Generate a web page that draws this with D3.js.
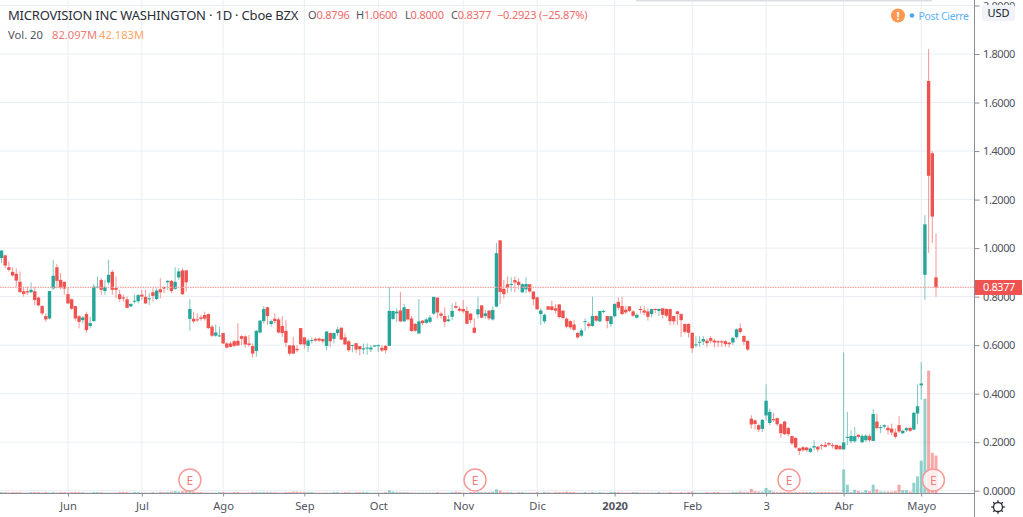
<!DOCTYPE html>
<html>
<head>
<meta charset="utf-8">
<script src="https://cdn.jsdelivr.net/npm/d3@7"></script>
<style>
    html, body { margin: 0; padding: 0; background: #fff; overflow: hidden; }
    text { font-family: "Noto Sans", sans-serif; }
</style>
</head>
<body>
<div id="chart"></div>
<script>
// one value per daily bar
const opens = [
    .959,.970,.921,.902,.894,.861,.822,.822,.818,.822,.796,.761,.720,.710,.834,.921,.869,.861,.810,.789,
    .761,.719,.703,.728,.679,.699,.839,.869,.823,.858,.902,.836,.810,.797,.789,.760,.779,.781,.808,.799,
    .789,.818,.790,.830,.840,.859,.865,.832,.879,.908,.908,.708,.709,.706,.714,.724,.728,.676,.639,.637,
    .650,.607,.607,.616,.618,.637,.636,.607,.596,.576,.652,.699,.756,.687,.709,.706,.679,.659,.599,.599,
    .585,.670,.632,.597,.618,.626,.627,.625,.597,.650,.626,.650,.672,.632,.616,.599,.608,.596,.582,.587,
    .582,.594,.599,.589,.597,.597,.708,.731,.743,.698,.749,.710,.688,.648,.701,.692,.696,.730,.796,.730,
    .720,.699,.717,.761,.750,.749,.741,.730,.672,.727,.764,.720,.742,.706,.759,1.032,.832,.851,.851,.868,
    .861,.818,.830,.851,.821,.797,.728,.698,.760,.760,.752,.768,.742,.709,.699,.685,.650,.639,.697,.688,
    .679,.720,.698,.739,.720,.687,.719,.778,.761,.746,.760,.739,.713,.749,.743,.739,.728,.749,.741,.752,
    .749,.749,.720,.739,.728,.687,.687,.651,.600,.611,.615,.618,.629,.619,.616,.616,.616,.610,.611,.633,
    .670,.638,.618,.297,.290,.270,.255,.310,.279,.295,.299,.274,.285,.258,.225,.218,.175,.179,.178,.160,
    .178,.181,.189,.189,.196,.188,.188,.185,.170,.219,.204,.204,.230,.200,.208,.225,.205,.285,.258,.264,
    .259,.256,.240,.270,.237,.249,.259,.252,.318,.434,.890,1.689,1.391,.8796
]
const highs = [
    .990,.973,.945,.921,.917,.904,.841,.841,.859,.841,.800,.765,.731,.823,.952,.935,.897,.862,.839,.793,
    .761,.724,.720,.738,.717,.852,.883,.876,.869,.952,.910,.883,.828,.807,.800,.772,.807,.811,.828,.828,
    .814,.834,.834,.876,.841,.869,.869,.921,.917,.917,.910,.789,.738,.731,.724,.738,.731,.683,.685,.676,
    .651,.614,.614,.621,.690,.641,.640,.641,.607,.662,.703,.761,.759,.706,.731,.714,.720,.703,.600,.634,
    .600,.670,.632,.627,.632,.632,.632,.627,.658,.651,.651,.676,.672,.648,.621,.601,.610,.596,.607,.607,
    .600,.600,.603,.600,.600,.839,.741,.752,.819,.770,.749,.720,.690,.790,.703,.714,.724,.799,.796,.738,
    .756,.724,.772,.779,.759,.786,.759,.731,.710,.800,.764,.745,.745,.759,1.021,1.032,.869,.883,.880,.883,
    .876,.855,.880,.851,.821,.800,.752,.731,.760,.783,.770,.770,.745,.714,.703,.703,.655,.669,.710,.696,
    .800,.724,.741,.745,.720,.720,.772,.797,.800,.761,.761,.745,.731,.761,.761,.752,.750,.752,.752,.752,
    .752,.749,.721,.741,.731,.690,.690,.651,.637,.637,.637,.627,.637,.627,.621,.621,.621,.614,.634,.669,
    .690,.641,.618,.311,.293,.277,.295,.438,.338,.320,.301,.277,.288,.263,.227,.219,.178,.184,.181,.178,
    .208,.184,.192,.201,.201,.197,.190,.188,.570,.325,.249,.263,.233,.233,.233,.233,.336,.318,.270,.274,
    .270,.277,.256,.307,.252,.263,.263,.325,.438,.530,1.136,1.820,1.400,1.060
]
const lows = [
    .938,.917,.903,.883,.841,.814,.800,.807,.814,.765,.759,.724,.696,.706,.828,.834,.830,.807,.770,.745,
    .701,.669,.690,.651,.669,.696,.835,.807,.807,.848,.807,.793,.779,.779,.752,.756,.772,.772,.786,.770,
    .765,.779,.786,.793,.814,.828,.814,.828,.869,.807,.821,.659,.692,.696,.701,.701,.667,.634,.634,.634,
    .604,.586,.590,.593,.596,.600,.590,.593,.549,.552,.648,.690,.683,.676,.690,.648,.634,.593,.558,.563,
    .572,.600,.586,.572,.607,.614,.614,.607,.579,.593,.607,.637,.621,.600,.572,.570,.568,.558,.563,.561,
    .572,.593,.571,.572,.565,.596,.703,.696,.695,.695,.701,.655,.655,.645,.683,.687,.690,.724,.710,.710,
    .676,.696,.703,.750,.738,.731,.687,.690,.648,.710,.710,.710,.703,.701,.756,.770,.793,.814,.821,.818,
    .830,.814,.814,.817,.765,.745,.683,.690,.745,.741,.731,.710,.706,.669,.665,.659,.627,.634,.658,.669,
    .676,.696,.695,.731,.669,.676,.714,.745,.724,.728,.737,.717,.710,.731,.724,.701,.714,.731,.720,.710,
    .714,.683,.683,.683,.634,.648,.632,.568,.590,.593,.600,.590,.607,.590,.593,.593,.593,.590,.600,.627,
    .648,.600,.576,.256,.253,.242,.242,.290,.270,.284,.266,.219,.229,.225,.188,.174,.147,.160,.160,.156,
    .167,.160,.170,.178,.184,.174,.167,.167,.170,.188,.195,.197,.215,.195,.201,.201,.204,.252,.238,.256,
    .233,.229,.215,.238,.233,.242,.242,.249,.274,.375,.786,.980,1.020,.800
]
const closes = [
    .990,.928,.910,.887,.866,.819,.811,.817,.828,.786,.764,.731,.706,.823,.886,.865,.837,.833,.772,.750,
    .710,.696,.714,.662,.691,.841,.841,.828,.840,.890,.828,.828,.790,.792,.754,.770,.783,.806,.800,.772,
    .793,.803,.825,.818,.833,.865,.823,.861,.904,.810,.859,.749,.698,.702,.708,.709,.670,.639,.652,.640,
    .607,.590,.593,.597,.599,.626,.603,.601,.565,.659,.701,.749,.720,.699,.699,.652,.650,.610,.565,.565,
    .579,.604,.603,.619,.621,.619,.619,.616,.656,.616,.650,.665,.623,.603,.579,.601,.582,.583,.587,.590,
    .590,.599,.600,.578,.579,.741,.741,.738,.698,.756,.706,.658,.659,.698,.691,.706,.714,.799,.735,.721,
    .696,.706,.741,.754,.742,.739,.688,.703,.651,.748,.713,.731,.710,.745,.979,.819,.810,.836,.852,.858,
    .848,.851,.852,.821,.789,.748,.743,.725,.746,.745,.742,.716,.712,.676,.673,.663,.632,.661,.699,.679,
    .720,.701,.741,.741,.699,.719,.770,.754,.728,.735,.741,.721,.725,.745,.734,.717,.749,.748,.749,.725,
    .721,.699,.698,.728,.703,.655,.651,.587,.603,.614,.625,.608,.618,.611,.611,.611,.604,.604,.630,.665,
    .654,.614,.582,.273,.275,.252,.292,.371,.325,.290,.274,.237,.233,.233,.195,.178,.164,.167,.167,.174,
    .184,.170,.186,.181,.190,.184,.171,.171,.199,.222,.226,.225,.222,.226,.227,.208,.316,.258,.262,.270,
    .249,.240,.222,.244,.247,.258,.247,.321,.348,.442,1.098,1.298,1.130,.8377
]
// volume in millions
const volumes = [
    3,3,2,3,3,3,2,2,3,3,3,2,3,2,3,2,3,3,2,3,
    3,3,3,2,2,3,3,3,2,2,2,2,3,3,3,2,3,3,2,2,
    2,3,2,3,3,3,4,5,4,5,7,6,4,3,3,2,2,2,2,3,
    3,2,2,3,3,2,2,2,3,3,3,3,3,3,3,2,2,3,3,4,
    4,3,3,3,3,2,2,2,2,2,3,3,2,3,3,2,3,3,3,3,
    2,2,2,2,3,7,4,3,3,3,3,2,2,2,2,2,2,2,3,2,
    2,2,3,4,3,2,2,3,3,4,3,3,3,4,9,6,3,3,3,2,
    3,3,2,2,2,3,2,3,3,2,3,3,3,4,3,3,2,2,3,2,
    3,2,3,2,2,3,3,3,2,2,2,3,3,2,2,2,2,2,3,2,
    2,3,2,2,3,2,3,4,2,2,2,3,2,3,3,2,2,2,3,3,
    4,3,3,10,5,4,4,12,7,4,3,3,3,3,3,3,3,3,3,3,
    3,3,3,3,3,3,3,3,52,19,3,8,5,3,7,5,19,9,4,4,
    4,4,5,19,7,7,4,23,37,71,205,266,88,82.097
]

const monthLabels = ["Jun", "Jul", "Ago", "Sep", "Oct", "Nov", "Dic", "2020", "Feb", "3", "Abr", "Mayo"]
const monthBars = [18, 38, 60, 82, 102, 125, 145, 166, 187, 207, 228, 249]
const priceTicks = [0, .2, .4, .6, .8, 1, 1.2, 1.4, 1.6, 1.8, 2]
const earningsBars = [51, 128.2, 213.2, 252.3]
const lastClose = .8377

const up = "#26a69a", down = "#ef5350"
const width = 1023, height = 517
const axisX = 974.5, baseY = 493.5

const svg = d3.select("#chart").append("svg")
    .attr("width", width)
    .attr("height", height)
    .style("display", "block")

// scales
const x = d3.scaleLinear().domain([0, closes.length - 1]).range([1.5, 936])
const y = d3.scaleLinear().domain([0, 2]).range([490.7, 5.5])
const yVol = d3.scaleLinear().domain([0, 266]).range([baseY, 370.5])

// grid
svg.append("g").selectAll("line").data(priceTicks).enter().append("line")
    .attr("x1", 0).attr("x2", axisX)
    .attr("y1", d => y(d)).attr("y2", d => y(d))
    .attr("stroke", "#e9eef3")
svg.append("g").selectAll("line").data(monthBars).enter().append("line")
    .attr("x1", d => x(d)).attr("x2", d => x(d))
    .attr("y1", 0).attr("y2", baseY)
    .attr("stroke", "#e9eef3")

// volume
svg.append("g").selectAll("rect").data(volumes).enter().append("rect")
    .attr("x", (d, i) => x(i) - 1.5)
    .attr("y", d => yVol(d))
    .attr("width", 3)
    .attr("height", d => baseY - yVol(d))
    .attr("fill", (d, i) => closes[i] >= opens[i] ? up : down)
    .attr("opacity", .5)

// candles
const bars = svg.append("g").selectAll("g").data(closes).enter().append("g")
bars.append("line")
    .attr("x1", (d, i) => x(i)).attr("x2", (d, i) => x(i))
    .attr("y1", (d, i) => y(highs[i])).attr("y2", (d, i) => y(lows[i]))
    .attr("stroke", (d, i) => closes[i] >= opens[i] ? up : down)
    .attr("opacity", .6)
bars.append("rect")
    .attr("x", (d, i) => x(i) - 1.7)
    .attr("y", (d, i) => y(Math.max(opens[i], closes[i])))
    .attr("width", 3.4)
    .attr("height", (d, i) => Math.max(1, Math.abs(y(opens[i]) - y(closes[i]))))
    .attr("fill", (d, i) => closes[i] >= opens[i] ? up : down)

// last price line
svg.append("line")
    .attr("x1", 0).attr("x2", axisX)
    .attr("y1", y(lastClose)).attr("y2", y(lastClose))
    .attr("stroke", "#f5a3a3")
    .attr("stroke-width", 1.2)
    .attr("stroke-dasharray", "1.5,1")

// earnings markers
const earnings = svg.append("g").selectAll("g").data(earningsBars).enter().append("g")
    .attr("transform", d => "translate(" + x(d) + ",480)")
earnings.append("circle")
    .attr("r", 11)
    .attr("fill", "#fff")
    .attr("fill-opacity", .75)
    .attr("stroke", "#f79a9a")
    .attr("stroke-width", 1.5)
earnings.append("text")
    .attr("text-anchor", "middle")
    .attr("y", 4.5)
    .attr("font-size", 12)
    .attr("fill", "#f27c7c")
    .text("E")

// axes
const xAxis = d3.axisBottom(x)
    .tickValues(monthBars)
    .tickSize(3)
    .tickPadding(6)
    .tickFormat((d, i) => monthLabels[i])
const xG = svg.append("g")
    .attr("transform", "translate(0," + baseY + ")")
    .call(xAxis)
xG.select(".domain").attr("d", "M0,0H" + axisX).attr("stroke", "#8a8e99")
xG.selectAll("line").attr("stroke", "#8a8e99")
xG.selectAll("text")
    .attr("font-size", 11.2)
    .attr("fill", "#50535e")
    .attr("font-weight", d => d == 166 ? 700 : 400)
    .style("font-family", '"Noto Sans", sans-serif')

const yAxis = d3.axisRight(y)
    .tickValues(priceTicks)
    .tickSize(5)
    .tickPadding(3.5)
    .tickFormat(d3.format(".4f"))
const yG = svg.append("g")
    .attr("transform", "translate(" + axisX + ",0)")
    .call(yAxis)
yG.select(".domain").attr("d", "M0,0V" + height).attr("stroke", "#8a8e99")
yG.selectAll("line").attr("stroke", "#8a8e99")
yG.selectAll("text")
    .attr("font-size", 11)
    .attr("letter-spacing", -.4)
    .attr("fill", "#50535e")
    .style("font-family", '"Noto Sans", sans-serif')

// last price tag
svg.append("rect")
    .attr("x", 975).attr("y", y(lastClose) - 7.5)
    .attr("width", 47).attr("height", 15)
    .attr("fill", down)
svg.append("text")
    .attr("x", 983).attr("y", y(lastClose) + 4)
    .attr("font-size", 11)
    .attr("letter-spacing", -.4)
    .attr("fill", "#fff")
    .text(d3.format(".4f")(lastClose))

// currency
svg.append("rect")
    .attr("x", 982).attr("y", 5)
    .attr("width", 33).attr("height", 16)
    .attr("rx", 2)
    .attr("fill", "#f0f3fa")
svg.append("text")
    .attr("x", 998.5).attr("y", 17)
    .attr("text-anchor", "middle")
    .attr("font-size", 11)
    .attr("fill", "#131722")
    .text("USD")

// popup edge at the top
svg.append("rect")
    .attr("x", 636).attr("y", -2)
    .attr("width", 296).attr("height", 3.5)
    .attr("fill", "#dcdee3")

// status
svg.append("circle").attr("cx", 898).attr("cy", 15.5).attr("r", 7).attr("fill", "#ff9850")
svg.append("text")
    .attr("x", 898).attr("y", 19.5)
    .attr("text-anchor", "middle")
    .attr("font-size", 11)
    .attr("font-weight", 700)
    .attr("fill", "#fff")
    .text("!")
svg.append("circle").attr("cx", 912).attr("cy", 15.5).attr("r", 2.3).attr("fill", "#4ba6f5")
svg.append("text")
    .attr("x", 918.5).attr("y", 19.5)
    .attr("font-size", 10.5)
    .attr("letter-spacing", -.35)
    .attr("fill", "#5fb0f7")
    .text("Post Cierre")

// legend
svg.append("text")
    .attr("x", 8).attr("y", 19.5)
    .attr("font-size", 13)
    .attr("letter-spacing", -.2)
    .attr("fill", "#2a2e39")
    .text("MICROVISION INC WASHINGTON · 1D · Cboe BZX")

const ohlcLabels = ["O", "H", "L", "C"]
const ohlcValues = ["0.8796", "1.0600", "0.8000", "0.8377"]
const ohlcX = [308, 356, 405, 451]
ohlcLabels.forEach((lab, i) => {
    const t = svg.append("text").attr("x", ohlcX[i]).attr("y", 19).attr("font-size", 11)
        .attr("letter-spacing", -.2)
    t.append("tspan").attr("fill", "#50535e").text(lab)
    t.append("tspan").attr("fill", "#ef6a6a").text(ohlcValues[i])
})
svg.append("text")
    .attr("x", 497).attr("y", 19)
    .attr("font-size", 11)
    .attr("letter-spacing", -.2)
    .attr("fill", "#ef6a6a")
    .text("−0.2923 (−25.87%)")

svg.append("text")
    .attr("x", 8).attr("y", 38.5)
    .attr("font-size", 11.2)
    .attr("fill", "#50535e")
    .text("Vol. 20")
svg.append("text")
    .attr("x", 52).attr("y", 38.5)
    .attr("font-size", 11.2)
    .attr("fill", "#ef7a7a")
    .text("82.097M")
svg.append("text")
    .attr("x", 99).attr("y", 38.5)
    .attr("font-size", 11.2)
    .attr("fill", "#ffa566")
    .text("42.183M")

// settings gear
const gear = svg.append("g").attr("transform", "translate(998,507)")
gear.append("circle")
    .attr("r", 4.5)
    .attr("fill", "none")
    .attr("stroke", "#2a2e39")
    .attr("stroke-width", 1.3)
gear.selectAll("line").data(d3.range(8)).enter().append("line")
    .attr("x1", 0).attr("x2", 0)
    .attr("y1", -4.5).attr("y2", -6.8)
    .attr("stroke", "#2a2e39")
    .attr("stroke-width", 1.3)
    .attr("transform", d => "rotate(" + d * 45 + ")")
</script>
</body>
</html>
